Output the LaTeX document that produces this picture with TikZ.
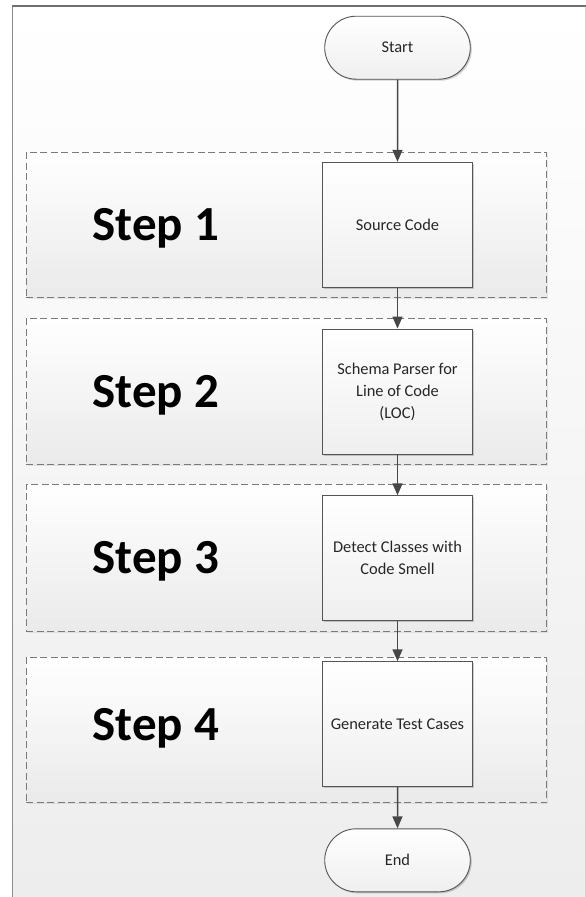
\documentclass[tikz,border=0pt]{standalone}
\usepackage{fontspec}
\setmainfont{Carlito}
\usetikzlibrary{arrows.meta,shadows,shapes.misc}
\definecolor{framedark}{HTML}{707070}
\definecolor{frameleft}{HTML}{8C8C8C}
\definecolor{frameright}{HTML}{D0D0D0}
\definecolor{bgbot}{HTML}{EDEDED}
\definecolor{grpbot}{HTML}{EAEAEA}
\definecolor{dashcol}{HTML}{7A7A7A}
\definecolor{boxline}{HTML}{555555}
\definecolor{boxbot}{HTML}{EFEFEF}
\definecolor{boxtext}{HTML}{262626}
\definecolor{arrowcol}{HTML}{474747}
\begin{document}
\begin{tikzpicture}[x=1pt,y=-1pt,
  procbox/.style={draw=boxline, line width=0.9pt, top color=white, bottom color=boxbot,
    minimum width=149.6pt, minimum height=125pt, inner sep=2pt, align=center,
    font=\fontsize{16.4}{22}\selectfont, text=boxtext,
    drop shadow={shadow xshift=1.5pt, shadow yshift=-1.5pt, opacity=0.18, fill=black}},
  termbox/.style={rounded rectangle, draw=boxline, line width=0.9pt, top color=white, bottom color=boxbot,
    minimum width=149.6pt, minimum height=63pt, inner sep=2pt,
    font=\fontsize{16.4}{22}\selectfont, text=boxtext,
    drop shadow={shadow xshift=1.5pt, shadow yshift=-1.5pt, opacity=0.18, fill=black}},
  groupbox/.style={draw=dashcol, dash pattern=on 7pt off 3.5pt, line width=0.9pt,
    top color=white, bottom color=grpbot, minimum width=520.7pt, minimum height=145.4pt,
    inner sep=0pt,
    drop shadow={shadow xshift=1.5pt, shadow yshift=-1.5pt, opacity=0.08, fill=black}},
  steplabel/.style={anchor=base west, inner sep=0pt, text=black,
    font=\bfseries\fontsize{49}{55}\selectfont},
  flow/.style={draw=arrowcol, line width=1.5pt, -{Triangle[length=12pt,width=10pt]}}
]
\useasboundingbox (0,0) rectangle (586,897);
\fill[white] (0,0) rectangle (586,897);
\shade[top color=white, bottom color=bgbot] (12.7,6) rectangle (585,897);
\draw[frameleft, line width=1pt] (12.7,6) -- (12.7,897);
\draw[frameright, line width=1pt] (585,6) -- (585,897);
\draw[framedark, line width=1.3pt] (12.2,6) -- (586,6);

% step groups
\node[groupbox] (g1) at (286.5,225.0) {};
\node[groupbox] (g2) at (286.5,391.3) {};
\node[groupbox, minimum height=146.7pt] (g3) at (286.5,557.7) {};
\node[groupbox] (g4) at (286.5,730.0) {};

% step labels
\node[steplabel] (t1) at (92.5,240.7) {Step 1};
\node[steplabel] (t2) at (92.5,407.5) {Step 2};
\node[steplabel] (t3) at (92.5,573.7) {Step 3};
\node[steplabel] (t4) at (92.5,740.0) {Step 4};

% flow nodes
\node[termbox] (start) at (397.5,47.7) {Start};
\node[procbox] (s1) at (397.5,224.8) {Source Code};
\node[procbox] (s2) at (397.5,391.5) {Schema Parser for\\Line of Code\\(LOC)};
\node[procbox] (s3) at (397.5,558.2) {Detect Classes with\\Code Smell};
\node[procbox] (s4) at (397.5,724.2) {Generate Test Cases};
\node[termbox] (end) at (397.5,860.3) {End};

% connectors
\draw[flow] (start) -- (s1);
\draw[flow] (s1) -- (s2);
\draw[flow] (s2) -- (s3);
\draw[flow] (s3) -- (s4);
\draw[flow] (s4) -- (end);
\end{tikzpicture}
\end{document}
